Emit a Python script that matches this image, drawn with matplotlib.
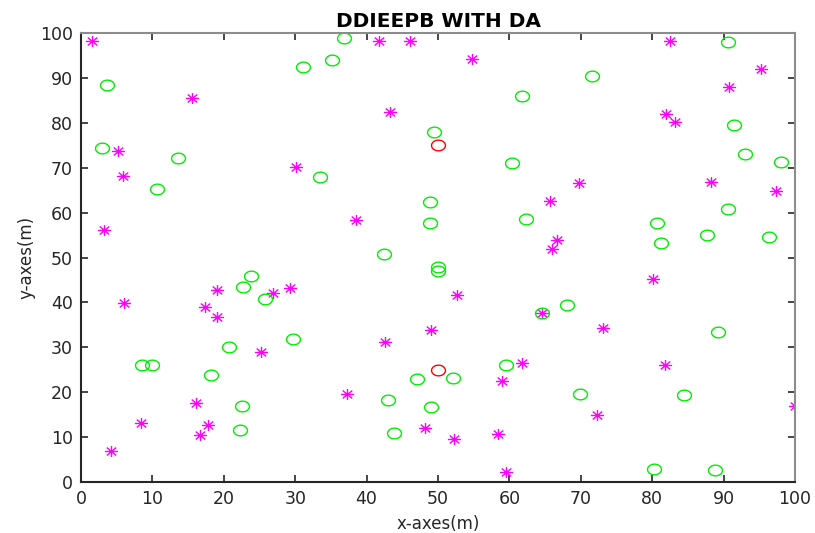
import numpy as np
import matplotlib
matplotlib.use("Agg")
import matplotlib.pyplot as plt
from matplotlib.path import Path

# star nodes (magenta asterisks)
star_x = [1.5, 15.6, 5.2, 5.9, 3.2, 41.7, 46.1, 43.3, 30.1, 38.5, 54.8, 69.8, 65.7, 66.6, 66.0,
          88.2, 97.4, 81.9, 83.2, 90.7, 95.2, 82.5, 52.7, 64.5, 80.1, 49.0, 73.1, 61.8, 59.0, 81.8,
          100.0, 72.3, 48.2, 52.2, 58.4, 59.5, 6.0, 19.1, 26.9, 29.3, 17.3, 19.1, 25.2, 42.6, 16.1,
          37.3, 8.4, 17.8, 16.7, 4.2]
star_y = [98.2, 85.5, 73.7, 68.2, 56.1, 98.3, 98.3, 82.4, 70.1, 58.3, 94.3, 66.7, 62.7, 53.9, 51.9,
          66.9, 64.9, 81.9, 80.2, 88.0, 92.1, 98.2, 41.6, 37.7, 45.3, 33.9, 34.3, 26.4, 22.5, 26.1,
          17.0, 14.9, 12.0, 9.5, 10.7, 2.2, 39.8, 42.7, 42.2, 43.1, 39.0, 36.7, 29.0, 31.2, 17.7,
          19.7, 13.1, 12.7, 10.5, 7.0]

# normal nodes (green circles)
node_x = [3.7, 3.0, 10.7, 13.6, 31.1, 35.1, 36.8, 33.5, 71.6, 61.8, 49.4, 60.4, 48.9, 48.9, 62.3,
          80.6, 81.2, 87.7, 96.4, 90.6, 98.0, 93.0, 91.5, 90.6, 42.4, 22.7, 23.8, 25.8, 20.7, 29.7,
          8.5, 9.9, 18.2, 22.5, 43.0, 22.2, 43.9, 50.0, 50.0, 64.5, 68.0, 89.2, 59.5, 47.1, 52.1,
          69.9, 84.5, 49.0, 80.2, 88.8]
node_y = [88.5, 74.4, 65.3, 72.1, 92.4, 93.9, 98.9, 67.9, 90.4, 86.0, 77.9, 71.0, 62.4, 57.8, 58.6,
          57.6, 53.2, 55.0, 54.6, 60.9, 71.2, 73.0, 79.6, 98.1, 50.7, 43.5, 45.8, 40.8, 30.0, 31.8,
          26.1, 26.1, 23.8, 16.9, 18.3, 11.6, 11.0, 47.8, 47.0, 37.7, 39.5, 33.3, 26.1, 23.0, 23.1,
          19.7, 19.4, 16.6, 2.8, 2.7]

# sinks (red circles)
sink_x = [50.0, 50.0]
sink_y = [75.0, 25.0]

# wide ellipse marker (MATLAB output was stretched horizontally)
t = np.linspace(0, 2 * np.pi, 60)
ellipse = Path(np.column_stack([1.3 * np.cos(t), np.sin(t)]), closed=True)

# asterisk marker: 8 arms, slightly wider than tall
sx, sy = 1.2, 1.0
d = 0.72
ast_verts = [(-sx, 0), (sx, 0), (0, -sy), (0, sy),
             (-d * sx, -d * sy), (d * sx, d * sy), (-d * sx, d * sy), (d * sx, -d * sy)]
ast_codes = [Path.MOVETO, Path.LINETO] * 4
asterisk = Path(ast_verts, ast_codes)

plt.rcParams["font.family"] = ["DejaVu Sans"]

fig = plt.figure(figsize=(8.15, 5.33), dpi=100)
ax = fig.add_axes([0.0994, 0.0957, 0.8761, 0.8423])

ax.plot(star_x, star_y, linestyle="none", marker=asterisk, markersize=9.5,
        markerfacecolor="none", markeredgecolor="#ff00ff", markeredgewidth=1.0)
ax.plot(node_x, node_y, linestyle="none", marker=ellipse, markersize=10,
        markerfacecolor="none", markeredgecolor="#00ee00", markeredgewidth=1.0)
ax.plot(sink_x, sink_y, linestyle="none", marker=ellipse, markersize=10,
        markerfacecolor="none", markeredgecolor="#ff0000", markeredgewidth=1.0)

ax.set_xlim(0, 100)
ax.set_ylim(0, 100)
ax.set_xticks(np.arange(0, 101, 10))
ax.set_yticks(np.arange(0, 101, 10))
ax.tick_params(direction="in", length=5, width=1.2, top=True, right=True,
               labelsize=12.5, labelcolor="#262626", color="#262626", pad=6)

for side in ["left", "bottom"]:
    ax.spines[side].set_color("#262626")
    ax.spines[side].set_linewidth(1.5)
for side in ["top", "right"]:
    ax.spines[side].set_color("#8c8c8c")
    ax.spines[side].set_linewidth(1.5)

ax.set_title("DDIEEPB WITH DA", fontsize=14.5, fontweight="bold", pad=4)
ax.set_xlabel("x-axes(m)", fontsize=12, color="#262626", labelpad=5)
ax.set_ylabel("y-axes(m)", fontsize=12, color="#262626", labelpad=3)

fig.savefig("out.png", dpi=100)
